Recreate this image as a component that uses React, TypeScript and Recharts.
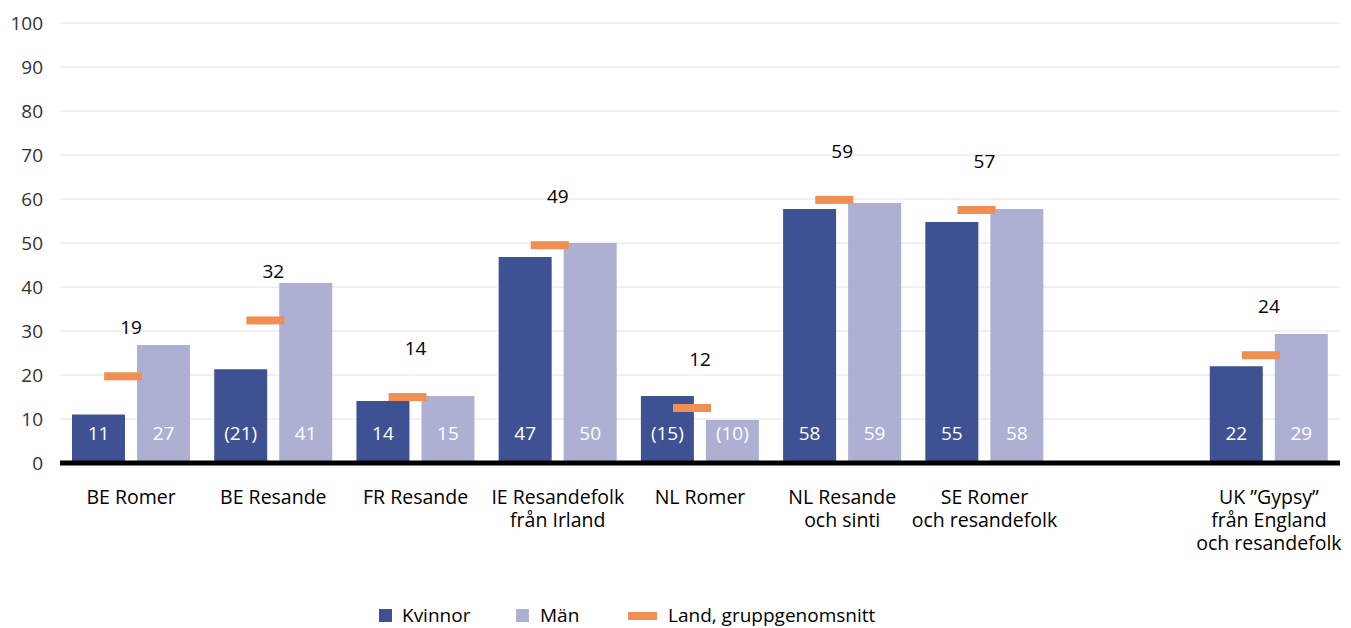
import {
  ComposedChart, Bar, Scatter, XAxis, YAxis, CartesianGrid, Legend, LabelList
} from "recharts"

const categories = [
  "BE Romer", "BE Resande", "FR Resande", "IE Resandefolk\nfrån Irland", "NL Romer",
  "NL Resande\noch sinti", "SE Romer\noch resandefolk", "", "UK ”Gypsy”\nfrån England\noch resandefolk"
]
const kvinnor = [11, 21.3, 14.1, 46.8, 15.2, 57.7, 54.8, null, 22]
const man = [26.8, 40.9, 15.2, 50, 9.8, 59.1, 57.7, null, 29.3]
const kvinnorLabels = ["11", "(21)", "14", "47", "(15)", "58", "55", "", "22"]
const manLabels = ["27", "41", "15", "50", "(10)", "59", "58", "", "29"]
const snitt = [19.7, 32.4, 15, 49.5, 12.5, 59.8, 57.5, null, 24.5]
const snittLabels = ["19", "32", "14", "49", "12", "59", "57", "", "24"]
const yTicks = [0, 10, 20, 30, 40, 50, 60, 70, 80, 90, 100]

const DARK = "#3e5293"
const LIGHT = "#adafd3"
const ORANGE = "#f18f53"
const FONT = "'Open Sans', sans-serif"

const data = categories.map((name, i) => ({
  name,
  kvinnor: kvinnor[i],
  man: man[i],
  kLabel: kvinnorLabels[i],
  mLabel: manLabels[i],
  snitt: snitt[i],
  sLabel: snittLabels[i],
}))

function CategoryTick({ x, y, payload }: any) {
  if (!payload.value) return null
  const lines = String(payload.value).split("\n")
  return (
    <g>
      {lines.map((line, i) => (
        <text key={i} x={x} y={y + 39 + i * 23} textAnchor="middle" fill="#000"
          fontSize={19.5} fontFamily={FONT}>
          {line}
        </text>
      ))}
    </g>
  )
}

function InsideLabel(props: any) {
  const { value } = props
  const vb = props.viewBox || props
  if (!value) return null
  return (
    <text x={vb.x + vb.width / 2} y={vb.y + vb.height - 30} textAnchor="middle"
      dominantBaseline="central" fill="#fff" fontSize={19} fontFamily={FONT}>
      {value}
    </text>
  )
}

function SnittMarker(props: any) {
  const { cx, cy, payload } = props
  if (payload == null || payload.snitt == null) return null
  return (
    <g>
      <rect x={cx - 27} y={cy - 4} width={38} height={8} fill={ORANGE} />
      <text x={cx} y={cy - 49} textAnchor="middle" dominantBaseline="central"
        fill="#000" fontSize={19} fontFamily={FONT}>
        {payload.sLabel}
      </text>
    </g>
  )
}

function LegendBox() {
  const text = { position: "absolute" as const, top: 15, fontSize: 19, color: "#000", fontFamily: FONT, lineHeight: "24px" }
  return (
    <div style={{ position: "relative", height: 40, width: 1351 }}>
      <div style={{ position: "absolute", left: 379, top: 21, width: 13, height: 13, background: DARK }} />
      <div style={{ ...text, left: 402 }}>Kvinnor</div>
      <div style={{ position: "absolute", left: 516, top: 21, width: 13, height: 13, background: LIGHT }} />
      <div style={{ ...text, left: 540 }}>Män</div>
      <div style={{ position: "absolute", left: 628, top: 24, width: 29, height: 8, background: ORANGE }} />
      <div style={{ ...text, left: 668 }}>Land, gruppgenomsnitt</div>
    </div>
  )
}

export default function App() {
  return (
    <div style={{ position: "absolute", left: 0, top: 0, fontFamily: FONT }}>
      <ComposedChart width={1351} height={628} data={data}
        margin={{ top: 23, right: 11, bottom: 0, left: 0 }}
        barSize={53} barGap={12}>
        <CartesianGrid vertical={false} stroke="#e2e2e2" />
        <XAxis dataKey="name" height={125} interval={0} tickLine={false} tickSize={0}
          axisLine={{ stroke: "#000", strokeWidth: 5 }} tick={<CategoryTick />} />
        <YAxis domain={[0, 100]} ticks={yTicks} width={60} axisLine={false} tickLine={false}
          tickSize={0} tickMargin={17} tick={{ fill: "#333", fontSize: 19, fontFamily: FONT }} />
        <Legend verticalAlign="bottom" height={40} content={() => <LegendBox />} />
        <Bar dataKey="kvinnor" fill={DARK} isAnimationActive={false}>
          <LabelList dataKey="kLabel" content={<InsideLabel />} />
        </Bar>
        <Bar dataKey="man" fill={LIGHT} isAnimationActive={false}>
          <LabelList dataKey="mLabel" content={<InsideLabel />} />
        </Bar>
        <Scatter dataKey="snitt" shape={<SnittMarker />} isAnimationActive={false} />
      </ComposedChart>
    </div>
  )
}
